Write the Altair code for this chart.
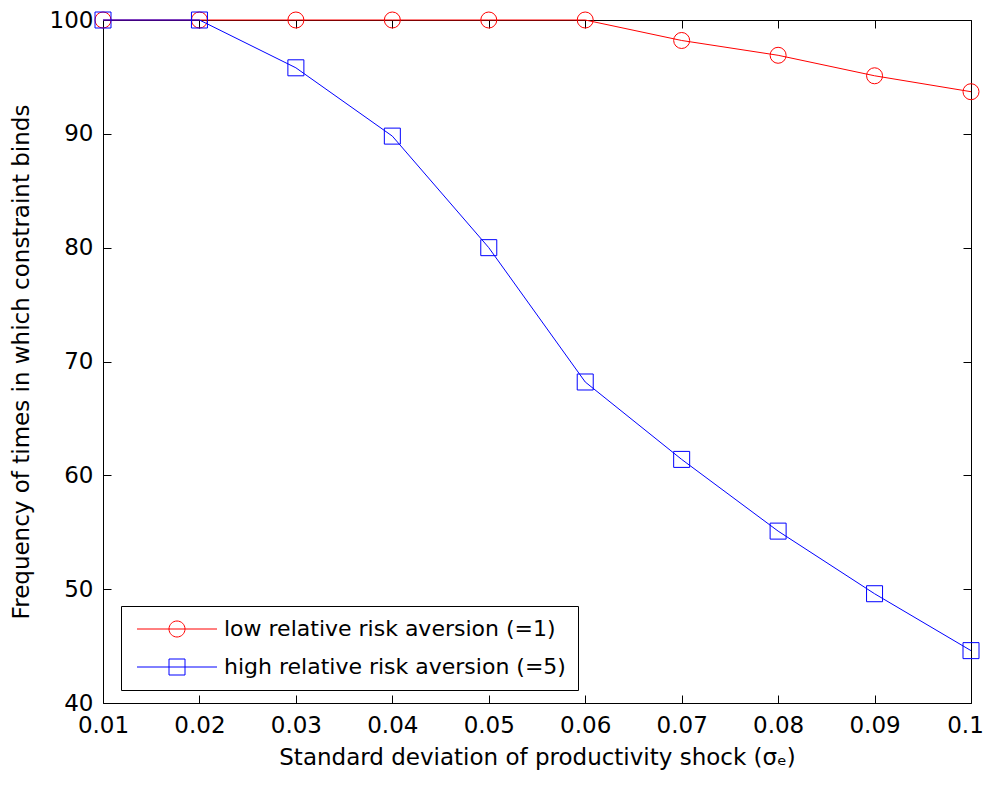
import altair as alt
import pandas as pd

# ---- data ----
x_vals = [0.01, 0.02, 0.03, 0.04, 0.05, 0.06, 0.07, 0.08, 0.09, 0.1]
low_rra = [100, 100, 100, 100, 100, 100, 98.2, 96.9, 95.1, 93.7]
high_rra = [100, 100, 95.8, 89.8, 80.0, 68.2, 61.4, 55.1, 49.6, 44.6]
series_names = ["low relative risk aversion (=1)", "high relative risk aversion (=5)"]
series_colors = ["#ff0000", "#0000ff"]
x_ticks = [0.01, 0.02, 0.03, 0.04, 0.05, 0.06, 0.07, 0.08, 0.09, 0.1]
y_ticks = [40, 50, 60, 70, 80, 90, 100]
x_title = "Standard deviation of productivity shock (σₑ)"
y_title = "Frequency of times in which constraint binds"

rows = []
for name, vals in zip(series_names, [low_rra, high_rra]):
    for x, y in zip(x_vals, vals):
        rows.append({"x": x, "y": y, "series": name})
df = pd.DataFrame(rows)

FONT = "DejaVu Sans"
FS = 23
x_scale = alt.Scale(domain=[0.01, 0.1], nice=False, zero=False)
y_scale = alt.Scale(domain=[40, 100], nice=False, zero=False)
color_scale = alt.Scale(domain=series_names, range=series_colors)

common = dict(domain=False, grid=False, tickSize=8, tickColor="black", tickWidth=1,
              offset=-8, labelFont=FONT, labelFontSize=FS, labelColor="black",
              titleFont=FONT, titleFontSize=FS, titleFontWeight="normal",
              titleColor="black", labelOverlap=False, labelFlush=False)

x_bottom = alt.Axis(values=x_ticks, format=".2~f", orient="bottom", labelPadding=11,
                    labelOffset={"condition": {"test": "datum.value > 0.095", "value": -6},
                                 "value": 0},
                    title=x_title, titlePadding=9, **common)
y_left = alt.Axis(values=y_ticks, orient="left", labelPadding=10,
                  title=y_title, titlePadding=16, **common)
x_top = alt.Axis(values=x_ticks, orient="top", labels=False, title=None, **common)
y_right = alt.Axis(values=y_ticks, orient="right", labels=False, title=None, **common)

circle_path = "M-5,0L5,0M-1,0A1,1,0,1,0,1,0A1,1,0,1,0,-1,0"
square_path = "M-5,0L5,0M-1,-1L1,-1L1,1L-1,1Z"

legend = alt.Legend(title=None, orient="none", legendX=18, legendY=586,
                    direction="vertical", symbolSize=256, symbolStrokeWidth=1,
                    symbolOffset=33, labelOffset=36, labelFont=FONT, labelFontSize=22,
                    labelColor="black", padding=12, rowPadding=16,
                    strokeColor="black", fillColor="white", labelLimit=0)


def layer(name, kind, xaxis=None, yaxis=None):
    base = alt.Chart(df).transform_filter(alt.datum.series == name)
    enc = dict(
        x=alt.X("x:Q", scale=x_scale, axis=xaxis),
        y=alt.Y("y:Q", scale=y_scale, axis=yaxis),
        color=alt.Color("series:N", scale=color_scale, legend=None),
    )
    if kind == "line":
        return base.mark_line(strokeWidth=1).encode(**enc)
    shape = "circle" if name == series_names[0] else "square"
    return base.mark_point(filled=False, size=256, strokeWidth=1, opacity=1,
                           shape=shape).encode(**enc)


red_line = layer(series_names[0], "line", x_bottom, y_left)
red_pts = layer(series_names[0], "point", x_top, y_right)
blue_line = layer(series_names[1], "line")
blue_pts = layer(series_names[1], "point")

legend_layer = alt.Chart(df).transform_filter(alt.datum.x < 0).mark_point(
    filled=False, strokeWidth=1, opacity=1
).encode(
    x=alt.X("x:Q", scale=x_scale, axis=None),
    y=alt.Y("y:Q", scale=y_scale, axis=None),
    color=alt.Color("series:N", scale=color_scale, legend=legend),
    shape=alt.Shape("series:N",
                    scale=alt.Scale(domain=series_names, range=[circle_path, square_path]),
                    legend=legend),
)

chart = alt.layer(red_line, red_pts, blue_line, blue_pts, legend_layer).resolve_axis(
    x="independent", y="independent"
).resolve_scale(
    color="independent", shape="independent"
).properties(
    width=868, height=683,
    autosize=alt.AutoSizeParams(type="none"),
    padding={"left": 95, "top": 12, "right": 13, "bottom": 76},
    background="white",
).configure_view(
    stroke="black", strokeWidth=1
)

chart.save("out.html", embed_options={"renderer": "svg", "actions": False})
